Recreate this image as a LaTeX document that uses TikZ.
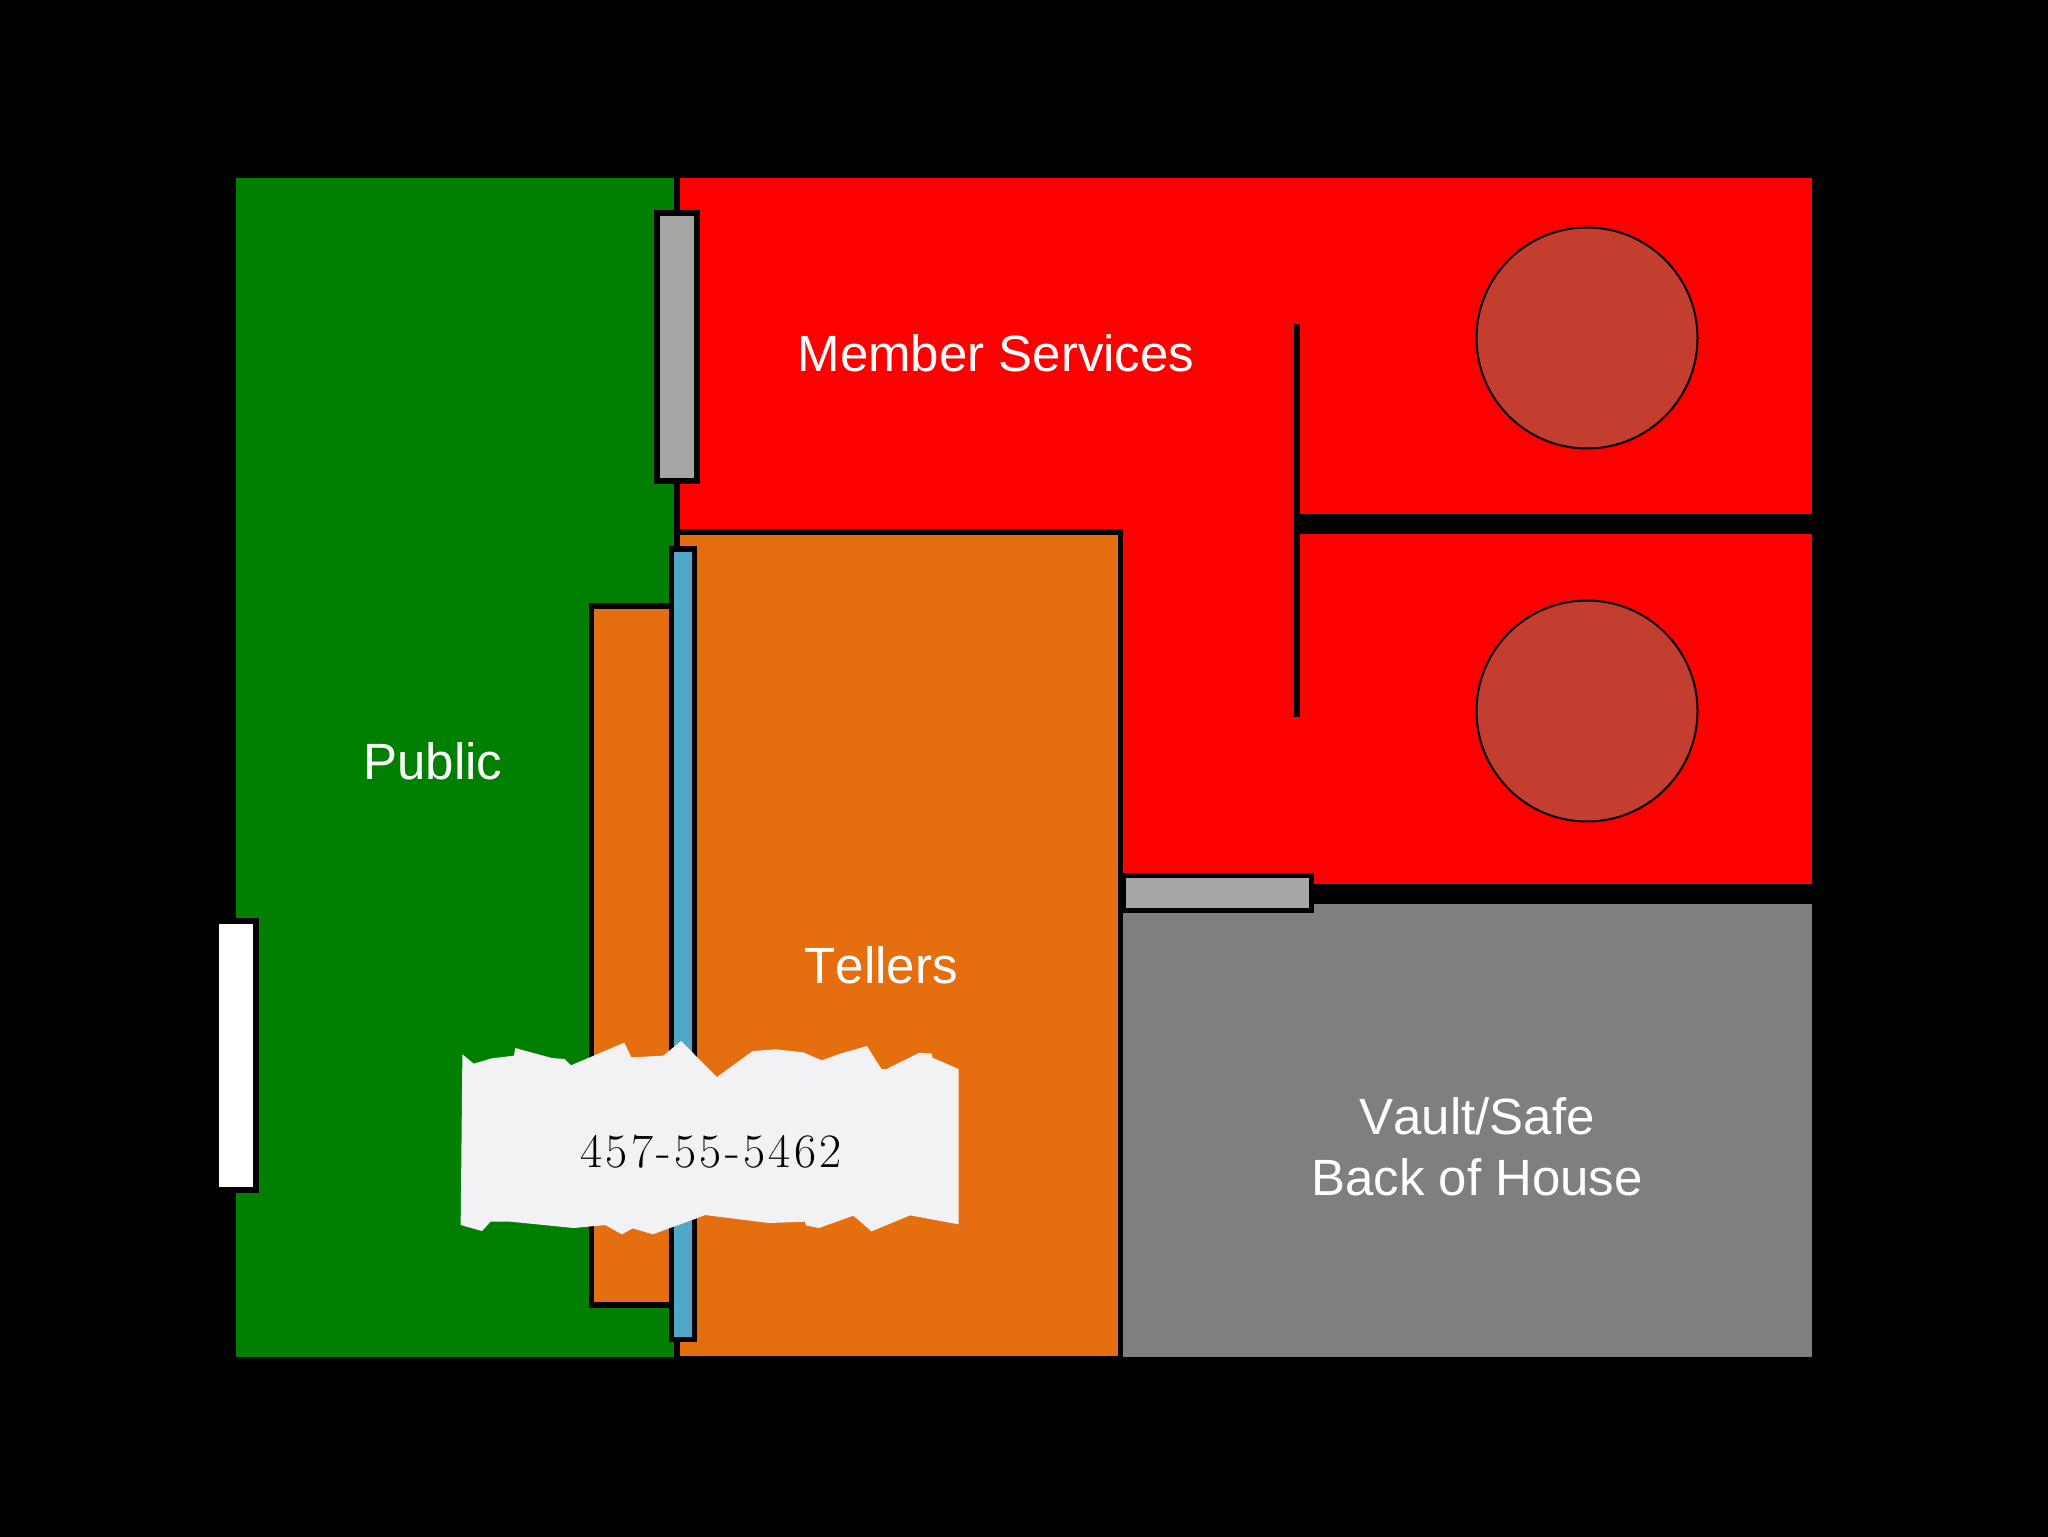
\documentclass[tikz,border=0pt]{standalone}
\usepackage{fontspec}
\newfontfamily\labelfont[Kerning=Off]{Liberation Sans}
\newfontfamily\numfont[LetterSpace=7]{Latin Modern Roman}
\definecolor{pubgreen}{HTML}{007F00}
\definecolor{tellorange}{HTML}{E56E0E}
\definecolor{vaultgray}{HTML}{7F807E}
\definecolor{doorgray}{HTML}{A6A6A4}
\definecolor{glassblue}{HTML}{4FA8C8}
\definecolor{roundred}{HTML}{C43E30}
\definecolor{paper}{HTML}{F2F1F3}
\tikzset{
  wall/.style={draw=black,line width=2.75pt},
  roomlabel/.style={text=white,font=\labelfont\fontsize{25.5}{30}\selectfont,anchor=base,inner sep=0pt},
  roundtable/.style={circle,draw=black,line width=1pt,fill=roundred,minimum size=110.5pt,inner sep=0pt}
}
\begin{document}
\begin{tikzpicture}[x=0.5pt,y=-0.5pt]
\useasboundingbox (0,0) rectangle (2048,1536);
\fill[black] (-10,-10) rectangle (2058,1546);
% rooms
\fill[pubgreen] (236,178) rectangle (674,1357);
\fill[red] (680,178) rectangle (1812,884);
\fill[black] (680,529) rectangle (1123,1357);
\fill[tellorange] (680,535) rectangle (1118,1356);
\fill[vaultgray] (1123,904) rectangle (1812,1357);
% interior walls
\fill[black] (1294,324) rectangle (1299.5,717);
\fill[black] (1294,514) rectangle (1812,534);
% round tables
\node[roundtable] (tableA) at (1587,338) {};
\node[roundtable] (tableB) at (1587,711) {};
% doors, counter and glass
\filldraw[wall,fill=doorgray] (657,213) rectangle (697,481);
\filldraw[wall,fill=doorgray] (1123.5,875.5) rectangle (1311.5,910.5);
\filldraw[wall,fill=white] (216,921) rectangle (256,1190);
\filldraw[wall,fill=tellorange] (591.5,606) rectangle (671.5,1305);
\filldraw[wall,fill=glassblue] (671.5,549) rectangle (694.5,1339.5);
% labels
\node[roomlabel] (member) at (996,371) {Member Services};
\node[roomlabel] (public) at (433,779) {Public};
\node[roomlabel] (tellers) at (881,983) {Tellers};
\node[roomlabel] (vault) at (1477,1134) {Vault/Safe};
\node[roomlabel] (house) at (1477,1195) {Back of House};
% torn paper
\begin{scope}[shift={(440,1020)},x=0.1722pt,y=-0.16667pt]
\fill[paper] (65,103)--(98,131)--(150,115)--(215,107)--(218,84)--(325,114)--(362,117)--(380,136)--(535,68)--(556,112)--(648,107)--(700,63)--(804,171)--(908,93)--(975,88)--(1055,97)--(1108,121)--(1165,100)--(1240,78)--(1265,120)--(1282,147)--(1297,147)--(1392,98)--(1428,101)--(1430,113)--(1506,147)--(1506,613)--(1365,586)--(1253,634)--(1200,587)--(1100,624)--(1062,616)--(1060,605)--(955,609)--(770,585)--(745,595)--(618,643)--(560,625)--(528,643)--(480,615)--(388,624)--(205,605)--(147,605)--(122,633)--(60,615)--cycle;
\end{scope}
\node[anchor=base,inner sep=0pt,text=black,font=\numfont\fontsize{24}{28}\selectfont] (ssn) at (711,1167) {457-55-5462};
\end{tikzpicture}
\end{document}
